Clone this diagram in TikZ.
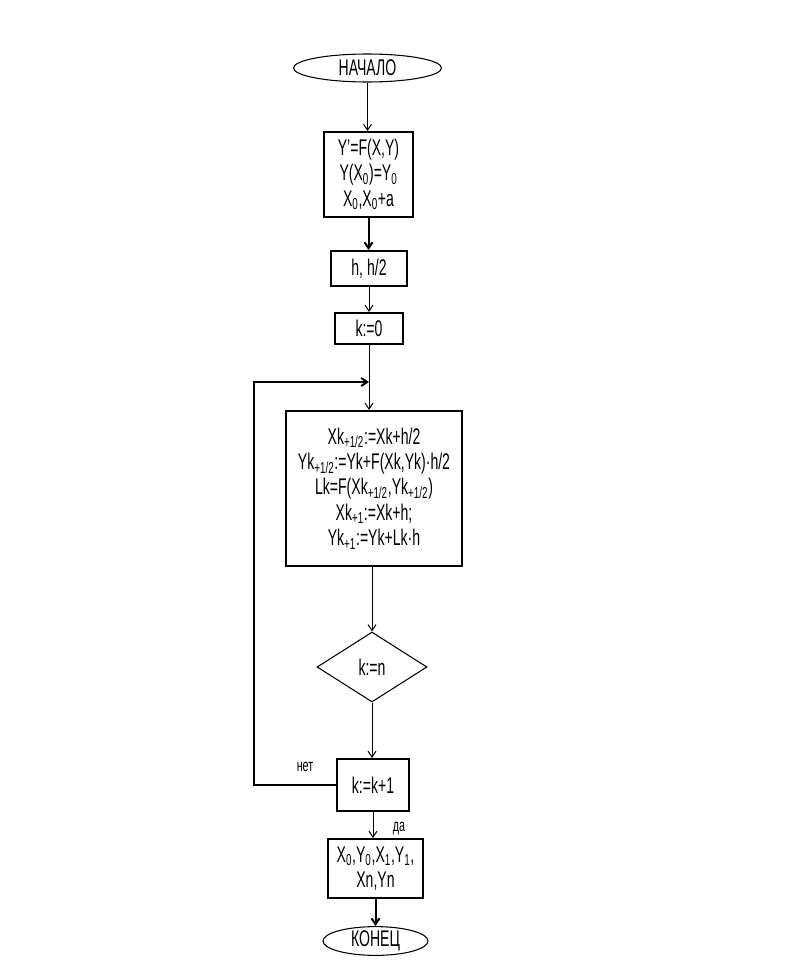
\documentclass[tikz,border=0pt]{standalone}
\usepackage{fontspec}
\setmainfont[FakeStretch=0.62]{Liberation Sans}
\usetikzlibrary{shapes.geometric,arrows.meta}
\newcommand{\ix}[1]{\textsubscript{#1}}
\begin{document}
\begin{tikzpicture}[x=0.75pt,y=-0.75pt,
   blok/.style={draw,line width=1.5pt,inner sep=0pt,align=center,font=\fontsize{17}{19}\selectfont},
   term/.style={draw,ellipse,line width=0.8pt,inner sep=0pt,font=\fontsize{17}{19}\selectfont},
   uslovie/.style={draw,diamond,line width=0.8pt,inner sep=0pt,font=\fontsize{17}{19}\selectfont},
   arr/.style={line width=0.75pt,-{Straight Barb[length=4.5pt,width=6pt]}},
   metka/.style={font=\fontsize{13}{14}\selectfont}]
   \useasboundingbox (0,0) rectangle (800,970);
   \node[term,minimum width=111pt,minimum height=21pt] (nach) at (367.5,68) {НАЧАЛО};
   \node[blok,minimum width=66.75pt,minimum height=63.75pt] (dano) at (368.5,174.5) {Y'=F(X,Y)\\Y(X\ix{0})=Y\ix{0}\\X\ix{0},X\ix{0}+a};
   \node[blok,minimum width=57pt,minimum height=26.25pt] (shag) at (369,268.5) {h, h/2};
   \node[blok,minimum width=51pt,minimum height=23.25pt] (k0) at (369,328.5) {k:=0};
   \node[blok,minimum width=132pt,minimum height=116.25pt] (schet) at (374,488.5) {Xk\ix{+1/2}:=Xk+h/2\\Yk\ix{+1/2}:=Yk+F(Xk,Yk)·h/2\\Lk=F(Xk\ix{+1/2},Yk\ix{+1/2})\\Xk\ix{+1}:=Xk+h;\\Yk\ix{+1}:=Yk+Lk·h};
   \node[uslovie,minimum width=82.5pt,minimum height=52.5pt] (usl) at (372,667) {k:=n};
   \node[blok,minimum width=54pt,minimum height=39pt] (k1) at (373,785) {k:=k+1};
   \node[blok,minimum width=71.25pt,minimum height=44.25pt] (vyvod) at (375.5,868.5) {X\ix{0},Y\ix{0},X\ix{1},Y\ix{1},\\Xn,Yn};
   \node[term,minimum width=78.75pt,minimum height=21pt] (kon) at (375.5,941) {КОНЕЦ};
   \coordinate (loop) at (254,382);
   \draw[arr] (nach.south) -- (nach.south |- dano.north);
   \draw[arr,line width=1.5pt] (dano.south) -- (dano.south |- shag.north);
   \draw[arr] (shag.south) -- (shag.south |- k0.north);
   \draw[arr] (k0.south) -- (k0.south |- schet.north);
   \draw[arr,line width=1.5pt] (k1.west) -| (loop) -- (k0.south |- loop);
   \draw[arr] (schet.south -| usl.north) -- (usl.north);
   \draw[arr] (usl.south) -- (usl.south |- k1.north);
   \draw[arr] (k1.south) -- (k1.south |- vyvod.north);
   \draw[arr,line width=1.5pt] (vyvod.south) -- (vyvod.south |- kon.north);
   \node[metka] (net) at (305,767) {нет};
   \node[metka] (da) at (399,829) {да};
\end{tikzpicture}
\end{document}
